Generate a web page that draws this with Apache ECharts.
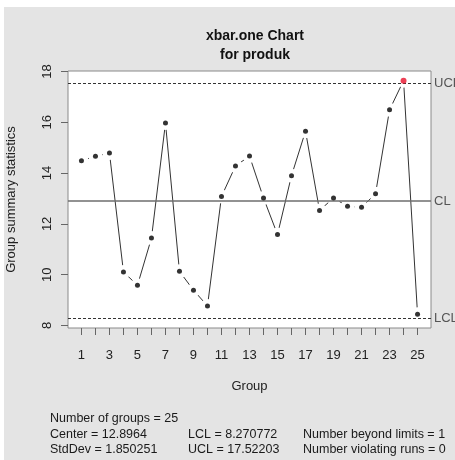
<!DOCTYPE html>
<html>
<head>
<meta charset="utf-8">
<script src="https://cdn.jsdelivr.net/npm/echarts@6/dist/echarts.min.js"></script>
<style>
html,body{margin:0;padding:0;background:#ffffff;}
#chart{width:455px;height:460px;}
</style>
</head>
<body>
<div id="chart"></div>
<script>
// ---- data ----
var groups = [1,2,3,4,5,6,7,8,9,10,11,12,13,14,15,16,17,18,19,20,21,22,23,24,25];
var stats = [14.49,14.66,14.79,10.11,9.58,11.44,15.97,10.13,9.39,8.77,13.08,14.28,14.67,13.02,11.58,13.90,15.65,12.53,13.02,12.69,12.65,13.19,16.49,17.64,8.44];
var beyondIndex = [23];
var centerValue = 12.8964;
var lclValue = 8.270772;
var uclValue = 17.52203;
var yTicks = [8,10,12,14,16,18];
var xTicks = groups;
var xLabels = [1,3,5,7,9,11,13,15,17,19,21,23,25];
var limitNames = ['UCL','CL','LCL'];
var titleLines = ['xbar.one Chart','for produk'];
var yName = 'Group summary statistics';
var xName = 'Group';
var infoCol1 = ['Number of groups = 25','Center = 12.8964','StdDev = 1.850251'];
var infoCol2 = ['LCL = 8.270772','UCL = 17.52203'];
var infoCol3 = ['Number beyond limits = 1','Number violating runs = 0'];

var FONT = '"Liberation Sans", Arial, sans-serif';

var linePts = groups.map(function(g,i){return [g, stats[i]];});
var dotPts = groups.map(function(g,i){
  var red = beyondIndex.indexOf(i) >= 0;
  return {value:[g, stats[i]], itemStyle:{color: red ? '#e8102a' : '#000000'}, symbolSize: red ? 6 : 5};
});

var chart = echarts.init(document.getElementById('chart'), null, {renderer:'canvas'});

function infoTexts(){
  var out = [];
  var ys = [419, 435, 450];
  infoCol1.forEach(function(t,i){
    out.push({type:'text', left:50, top: ys[i]-7, style:{text:t, font:'12.5px '+FONT, fill:'#1a1a1a'}});
  });
  infoCol2.forEach(function(t,i){
    out.push({type:'text', left:188, top: ys[i+1]-7, style:{text:t, font:'12.5px '+FONT, fill:'#1a1a1a'}});
  });
  infoCol3.forEach(function(t,i){
    out.push({type:'text', left:303, top: ys[i+1]-7, style:{text:t, font:'12.5px '+FONT, fill:'#1a1a1a'}});
  });
  return out;
}

var option = {
  animation:false,
  backgroundColor:'#ffffff',
  textStyle:{fontFamily:FONT},
  title:{
    text: titleLines.join('\n'),
    left: 250, top: 22, textAlign:'center',
    textStyle:{fontSize:14, fontWeight:'bold', color:'#111', lineHeight:19, fontFamily:FONT}
  },
  graphic: [
    {type:'rect', z:-10, silent:true, shape:{x:4,y:7,width:451,height:453}, style:{fill:'#e4e4e4'}}
  ].concat(infoTexts()),
  grid:{
    left:68, right:24, top:71, bottom:132,
    show:true, backgroundColor:'#ffffff', borderColor:'#8a8a8a', borderWidth:1,
    containLabel:false, outerBoundsMode:'none'
  },
  xAxis:{
    type:'value', min:0.04, max:25.96,
    name:xName, nameLocation:'middle', nameGap:52,
    nameTextStyle:{fontSize:13, color:'#222', fontFamily:FONT},
    axisLine:{show:false},
    splitLine:{show:false},
    axisTick:{show:true, inside:false, length:7, lineStyle:{color:'#666'}, customValues:xTicks},
    axisLabel:{fontSize:13, color:'#222', margin:21, customValues:xLabels, fontFamily:FONT}
  },
  yAxis:{
    type:'value', min:7.9, max:18.02,
    name:yName, nameLocation:'middle', nameGap:50, nameRotate:90,
    nameTextStyle:{fontSize:13, color:'#222', fontFamily:FONT},
    axisLine:{show:false},
    splitLine:{show:false},
    axisTick:{show:true, inside:false, length:7, lineStyle:{color:'#666'}, customValues:yTicks},
    axisLabel:{fontSize:13, color:'#222', margin:14, rotate:90, customValues:yTicks, fontFamily:FONT}
  },
  series:[
    {
      type:'line', data:linePts, z:2,
      showSymbol:false, symbol:'none',
      lineStyle:{color:'#333333', width:1},
      emphasis:{disabled:true}
    },
    {
      type:'scatter', data:linePts, z:3, symbol:'circle', symbolSize:14,
      itemStyle:{color:'#ffffff', opacity:1},
      emphasis:{disabled:true}, silent:true
    },
    {
      type:'line', data:[], z:4,
      markLine:{
        silent:true, symbol:['none','none'], animation:false,
        label:{show:true, position:'end', distance:3, color:'#555', fontSize:13, fontFamily:FONT,
               formatter:function(p){return p.name;}},
        data:[
          {name:limitNames[0], yAxis:uclValue, lineStyle:{color:'#333', type:[3,2], width:1}},
          {name:limitNames[1], yAxis:centerValue, lineStyle:{color:'#6e6e6e', type:'solid', width:1.5}},
          {name:limitNames[2], yAxis:lclValue, lineStyle:{color:'#333', type:[3,2], width:1}}
        ]
      }
    },
    {
      type:'scatter', data:dotPts, z:5, symbol:'circle',
      emphasis:{disabled:true}
    }
  ]
};
chart.setOption(option);
</script>
</body>
</html>
